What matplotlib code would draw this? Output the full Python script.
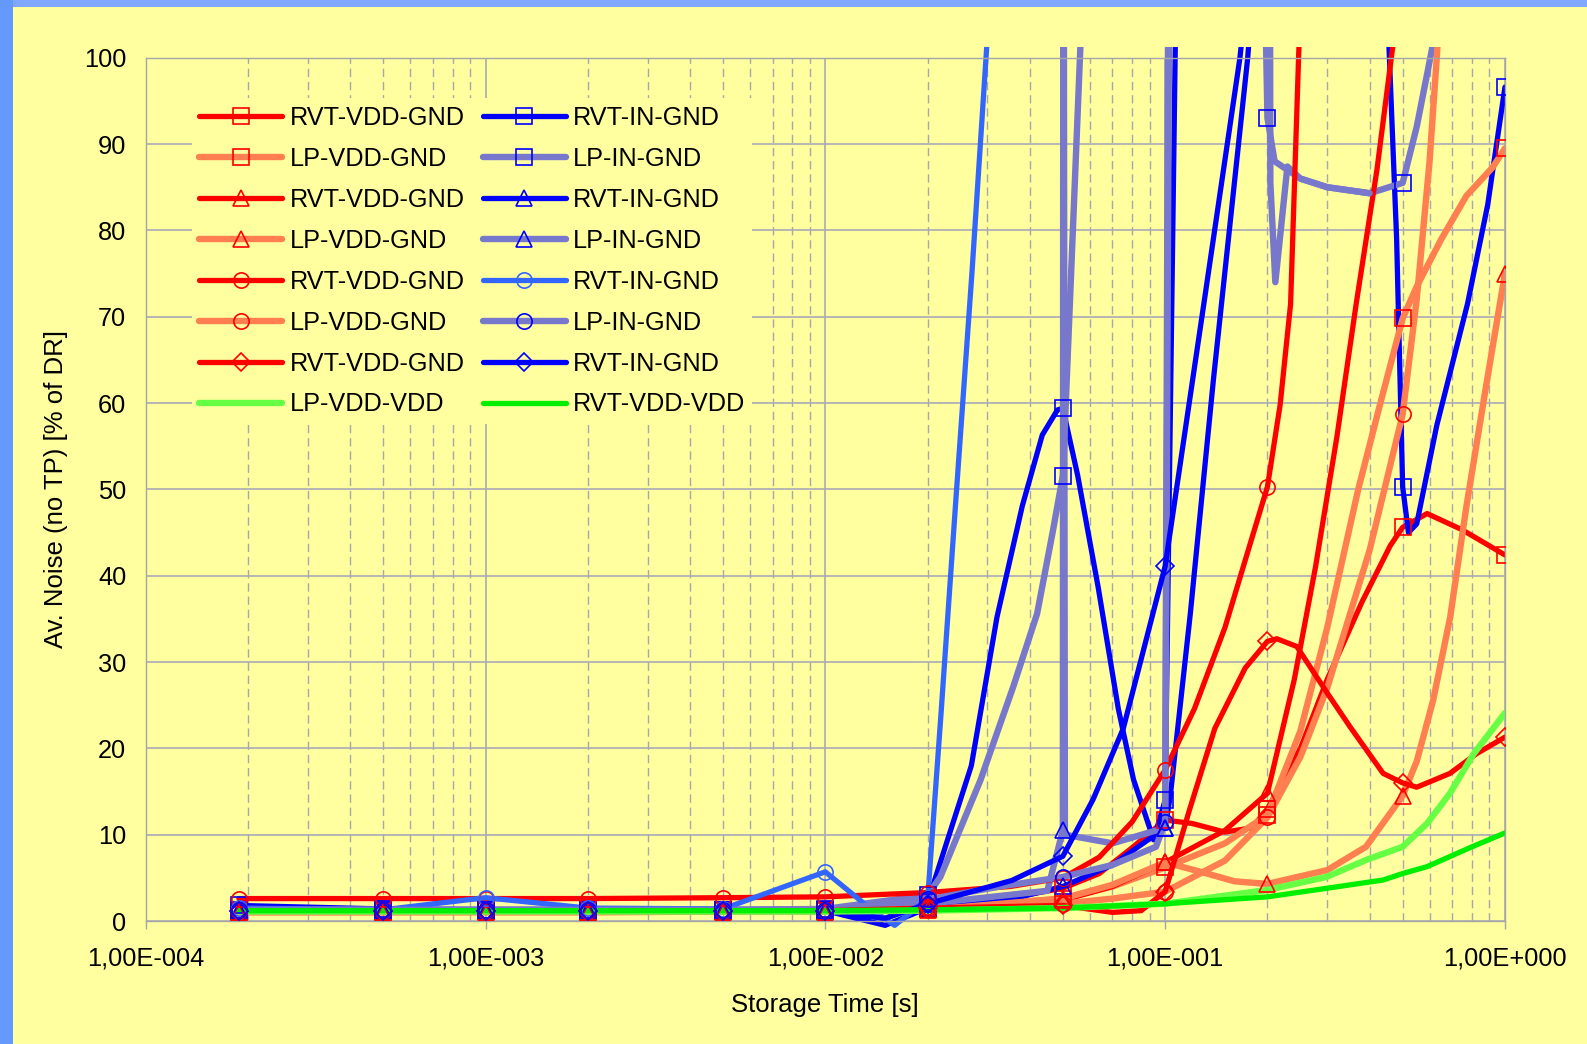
import numpy as np
import matplotlib
matplotlib.use('Agg')
import matplotlib.pyplot as plt
from matplotlib.lines import Line2D
from matplotlib.patches import Rectangle
from matplotlib.transforms import Bbox, TransformedBbox
from matplotlib.ticker import FixedLocator, FixedFormatter, NullFormatter

plt.rcParams['font.family'] = ['Liberation Sans', 'DejaVu Sans']

BG = '#FFFFA0'

# storage times that carry a marker
marker_x = [1.88e-4, 5e-4, 1e-3, 2e-3, 5e-3, 1e-2, 2e-2, 5e-2, 1e-1, 2e-1, 5e-1, 1.0]
low_x = [1.88e-4, 5e-4, 1e-3, 2e-3, 5e-3, 1e-2]

xtick_vals = [1e-4, 1e-3, 1e-2, 1e-1, 1.0]
xtick_labels = ['1,00E-004', '1,00E-003', '1,00E-002', '1,00E-001', '1,00E+000']

# --- VDD-GND, RVT / LP ---
rvt_vdd_sq_x = low_x + [2e-2, 3.3e-2, 5e-2, 6.4e-2, 8e-2, 1e-1, 1.2e-1, 1.5e-1, 1.8e-1, 2e-1, 2.5e-1, 3e-1,
                        3.8e-1, 4.6e-1, 5e-1, 5.9e-1, 7.5e-1, 1.0]
rvt_vdd_sq_y = [1.2, 1.2, 1.3, 1.2, 1.3, 1.3, 1.6, 2.5, 3.8, 5.5, 8.5, 11.7, 11.3, 10.3, 10.8, 13.0, 20.0, 28.0,
                37.0, 43.5, 45.6, 47.2, 45.3, 42.4]

lp_vdd_sq_x = low_x + [2e-2, 5e-2, 7e-2, 1e-1, 1.5e-1, 2e-1, 2.5e-1, 3e-1, 3.7e-1, 4.3e-1, 5e-1, 5.5e-1, 6.5e-1,
                       7.7e-1, 9.2e-1, 1.0]
lp_vdd_sq_y = [1.1, 1.1, 1.2, 1.1, 1.2, 1.2, 1.4, 2.6, 4.0, 6.2, 9.0, 12.3, 22.0, 34.0, 50.0, 60.0, 69.8, 73.5, 79.0,
               84.0, 87.3, 89.5]

rvt_vdd_tri_x = low_x + [2e-2, 5e-2, 7e-2, 1e-1, 1.5e-1, 2e-1, 2.4e-1, 2.77e-1, 3.2e-1, 3.65e-1, 4.2e-1, 4.63e-1,
                         5e-1, 1.0]
rvt_vdd_tri_y = [1.0, 1.0, 1.1, 1.0, 1.1, 1.1, 1.4, 2.4, 4.0, 6.8, 10.5, 14.8, 28.0, 41.0, 56.0, 71.5, 87.0, 100.0,
                 110.0, 400.0]

lp_vdd_tri_x = low_x + [2e-2, 5e-2, 7e-2, 1e-1, 1.3e-1, 1.6e-1, 2e-1, 3e-1, 3.9e-1, 5e-1, 5.5e-1, 6.15e-1, 6.9e-1,
                        7.7e-1, 8.76e-1, 1.0]
lp_vdd_tri_y = [1.0, 1.0, 1.0, 1.0, 1.1, 1.1, 1.3, 2.6, 4.2, 6.8, 5.6, 4.6, 4.3, 5.9, 8.6, 14.5, 18.5, 25.6, 35.2,
                48.0, 61.5, 75.0]

rvt_vdd_ci_x = low_x + [2e-2, 3.5e-2, 5e-2, 6.4e-2, 8e-2, 1e-1, 1.22e-1, 1.5e-1, 1.77e-1, 2e-1, 2.18e-1, 2.34e-1,
                        2.47e-1, 2.6e-1, 5e-1, 1.0]
rvt_vdd_ci_y = [2.6, 2.6, 2.6, 2.6, 2.7, 2.8, 3.3, 4.0, 5.0, 7.4, 11.5, 17.5, 24.6, 34.0, 43.4, 50.3, 59.8, 71.5,
                100.0, 125.0, 500.0, 900.0]

lp_vdd_ci_x = low_x + [2e-2, 5e-2, 7e-2, 1e-1, 1.5e-1, 2e-1, 2.5e-1, 3e-1, 4e-1, 5e-1, 5.5e-1, 6e-1, 6.3e-1, 7e-1, 1.0]
lp_vdd_ci_y = [1.2, 1.2, 1.2, 1.2, 1.2, 1.3, 1.4, 2.0, 2.6, 3.4, 7.0, 12.0, 19.0, 27.0, 43.0, 58.7, 72.0, 88.0,
               100.0, 130.0, 400.0]

rvt_vdd_di_x = low_x + [2e-2, 5e-2, 7e-2, 8.5e-2, 1e-1, 1.18e-1, 1.4e-1, 1.72e-1, 2e-1, 2.13e-1, 2.44e-1, 3e-1,
                        3.5e-1, 4.38e-1, 5e-1, 5.5e-1, 6.89e-1, 8.26e-1, 1.0]
rvt_vdd_di_y = [1.2, 1.2, 1.2, 1.2, 1.2, 1.2, 1.5, 1.8, 1.0, 1.2, 3.4, 12.9, 22.3, 29.3, 32.4, 32.7, 31.8, 26.4,
                22.5, 17.1, 16.0, 15.5, 17.1, 19.4, 21.3]

lp_vdd_vdd_x = low_x + [2e-2, 5e-2, 1e-1, 2e-1, 2.98e-1, 3.92e-1, 5e-1, 5.9e-1, 6.89e-1, 8.1e-1, 1.0]
lp_vdd_vdd_y = [1.1, 1.1, 1.1, 1.1, 1.1, 1.1, 1.2, 1.5, 2.0, 3.6, 5.1, 7.1, 8.6, 11.3, 14.8, 19.4, 24.1]

rvt_vdd_vdd_x = low_x + [2e-2, 5e-2, 1e-1, 2e-1, 3e-1, 4.38e-1, 5e-1, 5.9e-1, 8e-1, 1.0]
rvt_vdd_vdd_y = [1.2, 1.2, 1.2, 1.2, 1.2, 1.2, 1.3, 1.5, 2.0, 2.8, 3.8, 4.75, 5.5, 6.3, 8.6, 10.2]

# --- IN-GND, RVT / LP ---
rvt_in_sq_x = low_x + [1.5e-2, 2e-2, 2.69e-2, 3.2e-2, 3.8e-2, 4.35e-2, 4.82e-2, 5e-2, 5.53e-2, 6.35e-2, 7.28e-2,
                       8.07e-2, 9.25e-2, 1e-1, 1.07e-1, 1.2e-1, 2e-1, 4e-1, 4.56e-1, 4.8e-1, 5e-1, 5.2e-1, 5.5e-1,
                       6.3e-1, 7.76e-1, 8.9e-1, 1.0]
rvt_in_sq_y = [1.8, 1.4, 1.3, 1.3, 1.3, 1.3, 0.3, 2.2, 18.0, 35.2, 48.1, 56.3, 59.2, 59.4, 51.6, 38.7, 24.6,
               16.4, 9.4, 14.0, 100.0, 250.0, 500.0, 250.0, 101.0, 79.0, 50.3, 45.0, 46.0, 57.4, 71.5, 83.0, 96.6]

lp_in_sq_x = low_x + [2e-2, 2.18e-2, 2.86e-2, 3.57e-2, 4.2e-2, 4.68e-2, 5e-2, 5.75e-2, 1e-1, 1.9e-1, 2e-1, 2.1e-1,
                      2.5e-1, 3e-1, 4e-1, 5e-1, 5.5e-1, 6.1e-1, 7e-1, 1.0]
lp_in_sq_y = [1.3, 1.3, 1.3, 1.3, 1.3, 1.4, 3.0, 5.1, 16.3, 27.1, 35.6, 45.3, 51.6, 110.0, 400.0, 140.0, 93.0, 88.0,
              86.0, 85.0, 84.3, 85.5, 92.0, 101.0, 130.0, 300.0]

rvt_in_tri_x = low_x + [1.5e-2, 2e-2, 3.5e-2, 5e-2, 7e-2, 1e-1, 1.035e-1, 1.186e-1, 1.387e-1, 1.75e-1, 2e-1, 5e-1,
                        1.0]
rvt_in_tri_y = [1.2, 1.2, 1.2, 1.2, 1.2, 1.2, -0.5, 1.5, 2.5, 4.0, 6.5, 10.8, 14.4, 35.6, 62.7, 100.0, 130.0,
                500.0, 800.0]

# this one stops where it joins the LP-IN-GND square plateau
lp_in_tri_x = low_x + [2e-2, 4.5e-2, 5e-2, 5.02e-2, 5.07e-2, 7e-2, 1e-1, 1.04e-1, 2e-1, 2.04e-1, 2.11e-1, 2.29e-1,
                       2.5e-1, 3e-1, 4e-1]
lp_in_tri_y = [1.3, 1.3, 1.3, 1.3, 1.3, 1.3, 2.0, 3.5, 10.5, 150.0, 10.0, 9.0, 10.8, 150.0, 300.0, 85.5, 74.0, 87.4,
               86.0, 85.0, 84.3]

rvt_in_ci_x = low_x + [1.35e-2, 1.6e-2, 2e-2, 2.19e-2, 2.43e-2, 2.7e-2, 2.98e-2, 3.3e-2, 5e-2, 1e-1, 2e-1, 5e-1, 1.0]
rvt_in_ci_y = [1.5, 1.3, 2.7, 1.5, 1.4, 5.7, 1.5, -0.5, 2.5, 24.0, 49.6, 75.0, 100.8, 130.0, 400.0, 600.0, 800.0,
               900.0, 1000.0]

lp_in_ci_x = low_x + [2e-2, 3.27e-2, 5e-2, 7e-2, 9.4e-2, 1e-1, 1.03e-1, 2e-1, 5e-1, 1.0]
lp_in_ci_y = [1.3, 1.3, 1.3, 1.3, 1.3, 1.3, 2.5, 4.0, 5.1, 6.5, 8.6, 11.5, 150.0, 400.0, 600.0, 800.0]

rvt_in_di_x = low_x + [1.5e-2, 2e-2, 3.54e-2, 5e-2, 6.14e-2, 7.53e-2, 1e-1, 1.3e-1, 1.66e-1, 2e-1, 5e-1, 1.0]
rvt_in_di_y = [1.2, 1.2, 1.2, 1.2, 1.2, 1.2, 0.3, 2.0, 4.7, 7.5, 14.1, 22.3, 41.1, 71.5, 100.0, 130.0, 500.0, 800.0]

RED, CORAL, BLUE, SLATE = '#FF0000', '#FF7F50', '#0000FF', '#7777CC'
LBLUE, LGREEN, GREEN = '#3366FF', '#66FF44', '#00EE00'
LW_RVT, LW_LP = 3.8, 4.6

# (label, x, y, line color, line width, marker, marker edge color) in drawing order
series = [
    ('RVT-VDD-GND', rvt_vdd_sq_x, rvt_vdd_sq_y, RED, LW_RVT, 's', RED),
    ('RVT-IN-GND', rvt_in_sq_x, rvt_in_sq_y, BLUE, LW_RVT, 's', BLUE),
    ('LP-VDD-GND', lp_vdd_sq_x, lp_vdd_sq_y, CORAL, LW_LP, 's', RED),
    ('LP-IN-GND', lp_in_sq_x, lp_in_sq_y, SLATE, LW_LP, 's', BLUE),
    ('RVT-VDD-GND', rvt_vdd_tri_x, rvt_vdd_tri_y, RED, LW_RVT, '^', RED),
    ('RVT-IN-GND', rvt_in_tri_x, rvt_in_tri_y, BLUE, LW_RVT, '^', BLUE),
    ('LP-VDD-GND', lp_vdd_tri_x, lp_vdd_tri_y, CORAL, LW_LP, '^', RED),
    ('LP-IN-GND', lp_in_tri_x, lp_in_tri_y, SLATE, LW_LP, '^', BLUE),
    ('RVT-VDD-GND', rvt_vdd_ci_x, rvt_vdd_ci_y, RED, LW_RVT, 'o', RED),
    ('RVT-IN-GND', rvt_in_ci_x, rvt_in_ci_y, LBLUE, LW_RVT, 'o', LBLUE),
    ('LP-VDD-GND', lp_vdd_ci_x, lp_vdd_ci_y, CORAL, LW_LP, 'o', RED),
    ('LP-IN-GND', lp_in_ci_x, lp_in_ci_y, SLATE, LW_LP, 'o', BLUE),
    ('RVT-VDD-GND', rvt_vdd_di_x, rvt_vdd_di_y, RED, LW_RVT, 'D', RED),
    ('RVT-IN-GND', rvt_in_di_x, rvt_in_di_y, BLUE, LW_RVT, 'D', BLUE),
    ('LP-VDD-VDD', lp_vdd_vdd_x, lp_vdd_vdd_y, LGREEN, LW_LP, None, None),
    ('RVT-VDD-VDD', rvt_vdd_vdd_x, rvt_vdd_vdd_y, GREEN, LW_RVT, None, None),
]
MS = {'s': 11, '^': 12, 'o': 11, 'D': 9.5}

fig = plt.figure(figsize=(15.87, 10.44), dpi=100, facecolor=BG)
ax = fig.add_axes([0.0918, 0.1178, 0.8565, 0.8269])
ax.set_facecolor(BG)
ax.set_xscale('log')

clip = TransformedBbox(Bbox([[0, -0.012], [1, 1.013]]), ax.transAxes)

handles = []
for label, x, y, c, lw, m, mec in series:
    ln, = ax.plot(x, y, color=c, lw=lw, solid_joinstyle='round', solid_capstyle='round', zorder=2)
    ln.set_clip_box(clip)
    if m is not None:
        idx = [i for i, v in enumerate(x) if np.isclose(v, marker_x).any()]
        mk, = ax.plot(np.array(x)[idx], np.array(y)[idx], ls='none', marker=m, ms=MS[m],
                      mfc='none', mec=mec, mew=1.2, zorder=3)
        mk.set_clip_box(clip)
    handles.append(Line2D([], [], color=c, lw=lw, marker=m if m else 'none', ms=MS.get(m, 10),
                          mfc='none', mec=mec if mec else c, mew=1.2, solid_capstyle='round'))

ax.set_xlim(1e-4, 1.0)
ax.set_ylim(0, 100)

# Axis ticks
ax.xaxis.set_major_locator(FixedLocator(xtick_vals))
ax.xaxis.set_major_formatter(FixedFormatter(xtick_labels))
minor = [k * 10.0 ** e for e in range(-4, 0) for k in range(2, 10)]
ax.xaxis.set_minor_locator(FixedLocator(minor))
ax.xaxis.set_minor_formatter(NullFormatter())
ax.set_yticks(np.arange(0, 101, 10))
ax.tick_params(axis='x', which='major', length=6, width=1, color='#A6A6A6', pad=12, labelsize=18.3)
ax.tick_params(axis='x', which='minor', length=0)
ax.tick_params(axis='y', length=0, pad=14, labelsize=18.3)

# Gridlines
ax.set_axisbelow(True)
ax.grid(True, which='major', axis='both', color='#AAAAB8', lw=1.2)
ax.grid(True, which='minor', axis='x', color='#A8A8A8', lw=1, ls=(0, (6, 3.5)))
for s in ax.spines.values():
    s.set_color('#A6A6A6')
    s.set_linewidth(1)

ax.set_xlabel('Storage Time [s]', fontsize=18.5, va='center')
ax.xaxis.set_label_coords(0.5, -0.097)
ax.set_ylabel('Av. Noise (no TP) [% of DR]', fontsize=18.5, va='center')
ax.yaxis.set_label_coords(-0.066, 0.5)

# Legend: column 1 VDD series, column 2 IN series
order = [0, 2, 4, 6, 8, 10, 12, 14, 1, 3, 5, 7, 9, 11, 13, 15]
leg = ax.legend([handles[i] for i in order], [series[i][0] for i in order], ncol=2,
                loc='upper left', bbox_to_anchor=(0.034, 0.953), borderaxespad=0,
                fontsize=18.2, frameon=True, fancybox=False, facecolor=BG, edgecolor='none',
                framealpha=1, borderpad=0.3, handlelength=3.28, handletextpad=0.28,
                columnspacing=0.72, labelspacing=0.67, numpoints=1)

# Blue frame edges
fig.add_artist(Rectangle((0, 1 - 7 / 1044), 1, 7 / 1044, transform=fig.transFigure,
                         color='#80A8FF', lw=0, zorder=10))
fig.add_artist(Rectangle((0, 0), 13 / 1587, 1, transform=fig.transFigure,
                         color='#6699FF', lw=0, zorder=11))

plt.savefig('out.png', dpi=100, facecolor=BG)
